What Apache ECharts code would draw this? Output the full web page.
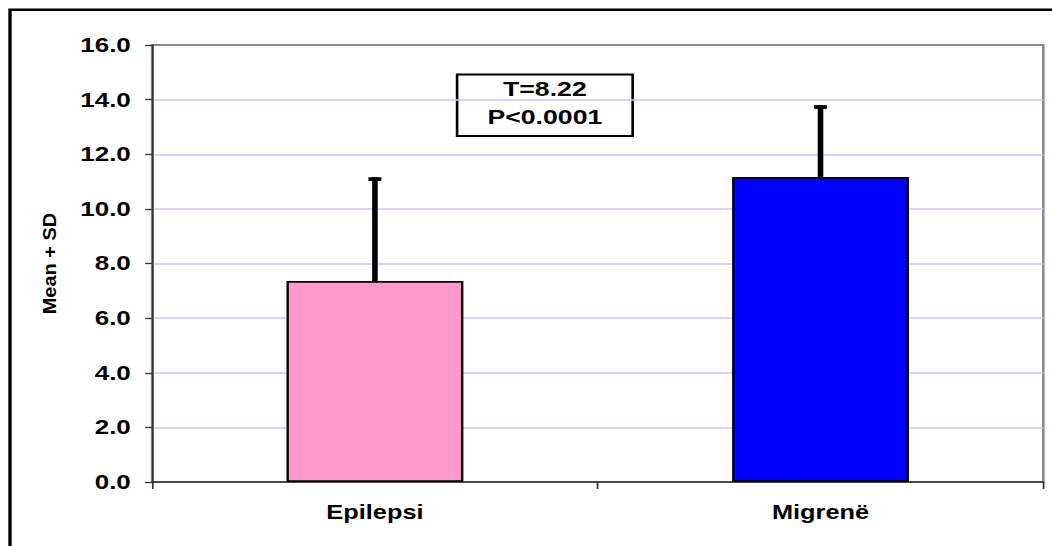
<!DOCTYPE html>
<html>
<head>
<meta charset="utf-8">
<script src="https://cdn.jsdelivr.net/npm/echarts@6/dist/echarts.min.js"></script>
<style>
  html, body { margin: 0; padding: 0; background: #fff; overflow: hidden; }
  #wrap { width: 1052px; height: 546px; overflow: hidden; }
  /* the chart is laid out narrow and widened, giving the broad lettering of the original slide */
  #chart { width: 809px; height: 546px; transform: scaleX(1.3004); transform-origin: 0 0; }
</style>
</head>
<body>
<div id="wrap"><div id="chart"></div></div>
<script>
// groups on the x axis
const categories = ['Epilepsi', 'Migrenë'];
// group means and standard deviations
const means = [7.36, 11.17];
const sds = [3.73, 2.56];
// y axis range and step
const yMin = 0, yMax = 16, yStep = 2;
// t-test result shown in the box
const statLines = ['T=8.22', 'P<0.0001'];
const yTitle = 'Mean + SD';

const barColors = ['#FF99CC', '#0000FF'];
const FONT = '"Liberation Sans", Arial, sans-serif';

const chart = echarts.init(document.getElementById('chart'), null, { renderer: 'svg' });

chart.setOption({
  animation: false,
  backgroundColor: '#ffffff',
  grid: {
    left: 117, right: 6.7, top: 45, bottom: 64,
    show: true, borderColor: '#8c8c8c', borderWidth: 2, backgroundColor: 'transparent'
  },
  xAxis: {
    type: 'category',
    data: categories,
    boundaryGap: true,
    axisLine: { lineStyle: { color: '#333333', width: 1.6 } },
    axisTick: { show: true, length: 7, lineStyle: { color: '#333333', width: 1.3 } },
    axisLabel: {
      interval: 0, margin: 21, color: '#000',
      fontFamily: FONT, fontWeight: 'bold', fontSize: 19.5
    },
    splitLine: { show: false }
  },
  yAxis: {
    type: 'value',
    min: yMin, max: yMax, interval: yStep,
    axisLine: { show: true, lineStyle: { color: '#333333', width: 1.4 } },
    axisTick: { show: true, length: 5.4, lineStyle: { color: '#333333', width: 1.3 } },
    axisLabel: {
      margin: 16.4, color: '#000',
      fontFamily: FONT, fontWeight: 'bold', fontSize: 20,
      formatter: v => v.toFixed(1)
    },
    splitLine: {
      show: true, showMinLine: false, showMaxLine: false,
      lineStyle: { color: '#d6bffb', width: 1.5 }
    }
  },
  series: [
    {
      type: 'bar',
      barWidth: 136,
      data: means.map((v, i) => ({
        value: v,
        itemStyle: { color: barColors[i], borderColor: '#000', borderWidth: 1.8 }
      })),
      z: 2
    },
    {
      // upper error bar: stem from the mean to mean + SD, with a cap
      type: 'custom',
      data: categories.map((c, i) => [i, means[i], sds[i]]),
      encode: { x: 0, y: 1 },
      z: 3,
      renderItem: function (params, api) {
        const idx = api.value(0);
        const m = api.value(1);
        const s = api.value(2);
        const base = api.coord([idx, m]);
        const top = api.coord([idx, m + s]);
        return {
          type: 'group',
          children: [
            {
              type: 'line',
              shape: { x1: base[0], y1: base[1], x2: top[0], y2: top[1] - 1.8 },
              style: { stroke: '#000', lineWidth: 4.3 }
            },
            {
              type: 'line',
              shape: { x1: top[0] - 5, y1: top[1], x2: top[0] + 5, y2: top[1] },
              style: { stroke: '#000', lineWidth: 3.7 }
            }
          ]
        };
      }
    }
  ],
  graphic: [
    {
      // outer chart frame (runs past the right and bottom edges)
      type: 'rect', silent: true, z: 10,
      shape: { x: 7.7, y: 9.7, width: 1000, height: 700 },
      style: { fill: 'none', stroke: '#000', lineWidth: 2.6 }
    },
    {
      type: 'text', silent: true, z: 10,
      x: 38, y: 263.5, rotation: Math.PI / 2, scaleY: 0.74,
      style: {
        text: yTitle, fill: '#000',
        font: 'bold 20px ' + FONT,
        align: 'center', verticalAlign: 'middle'
      }
    },
    {
      type: 'group', z: 10,
      children: [
        {
          type: 'rect', silent: true,
          shape: { x: 351.5, y: 74.5, width: 135, height: 61.5 },
          style: { fill: '#fff', stroke: '#000', lineWidth: 2 }
        },
        {
          type: 'text', silent: true,
          x: 419, y: 102.5,
          style: {
            text: statLines.join('\n'), fill: '#000',
            font: 'bold 20.5px ' + FONT, lineHeight: 28,
            align: 'center', verticalAlign: 'middle'
          }
        }
      ]
    }
  ]
});
</script>
</body>
</html>
